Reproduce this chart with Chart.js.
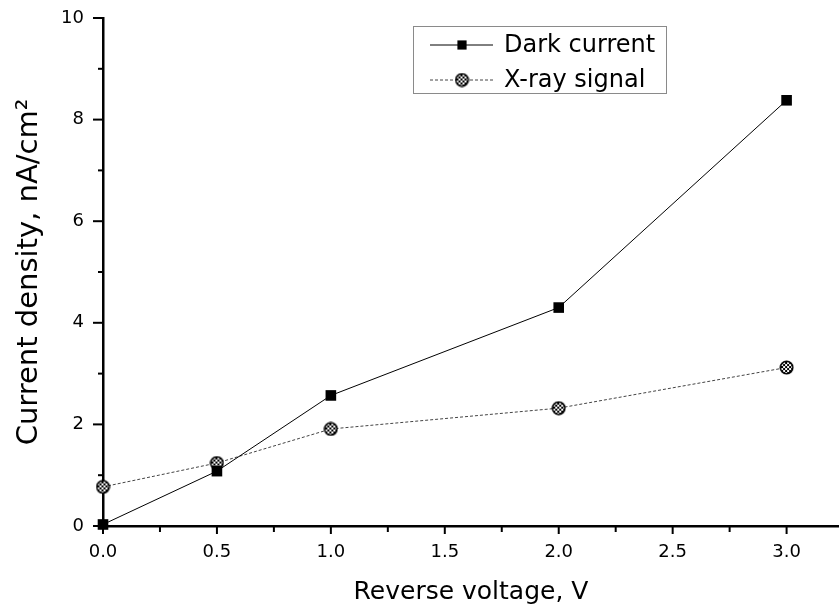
<!DOCTYPE html>
<html>
<head>
<meta charset="utf-8">
<script src="https://cdn.jsdelivr.net/npm/chart.js@4.4.0/dist/chart.umd.min.js"></script>
<style>
  html, body { margin: 0; padding: 0; background: #fff; }
  #wrap { width: 839px; height: 612px; }
</style>
</head>
<body>
<div id="wrap"><canvas id="c"></canvas></div>
<script>
const voltage     = [0, 0.5, 1.0, 2.0, 3.0];
const darkCurrent = [0.03, 1.08, 2.57, 4.30, 8.38];
const xraySignal  = [0.77, 1.24, 1.91, 2.32, 3.12];
const seriesNames = ['Dark current', 'X-ray signal'];
const xTitle = 'Reverse voltage, V';
const yTitle = 'Current density, nA/cm²';

const FONT = "'DejaVu Sans', sans-serif";

// crosshatched round marker for the x-ray series
function hatchMarker() {
  const s = 15, c = document.createElement('canvas');
  c.width = s; c.height = s;
  const g = c.getContext('2d');
  g.save();
  g.beginPath(); g.arc(s / 2, s / 2, 6.5, 0, Math.PI * 2); g.clip();
  g.fillStyle = '#fff'; g.fillRect(0, 0, s, s);
  g.fillStyle = '#000';
  for (let i = 0; i < s; i += 2)
    for (let j = 0; j < s; j += 2)
      if (((i + j) / 2) % 2 === 0) g.fillRect(i, j, 2, 2);
  g.restore();
  g.beginPath(); g.arc(s / 2, s / 2, 6.2, 0, Math.PI * 2);
  g.lineWidth = 1.6; g.strokeStyle = '#000'; g.stroke();
  return c;
}

const pts = ys => voltage.map((v, i) => ({ x: v, y: ys[i] }));

// outward major/minor ticks, placed through the scales
const axisTicks = {
  id: 'axisTicks',
  afterDraw(chart) {
    const { ctx, chartArea: { left, bottom } } = chart;
    ctx.save();
    ctx.strokeStyle = '#000';
    ctx.lineWidth = 2;
    const xs = chart.scales.x, ys = chart.scales.y;
    xs.ticks.forEach(t => {
      const p = xs.getPixelForValue(t.value);
      const len = t.label ? 8 : 6;
      ctx.beginPath(); ctx.moveTo(p, bottom); ctx.lineTo(p, bottom + len); ctx.stroke();
    });
    ys.ticks.forEach(t => {
      const p = ys.getPixelForValue(t.value);
      const len = t.label !== '' ? 10 : 5;
      ctx.beginPath(); ctx.moveTo(left, p); ctx.lineTo(left - len, p); ctx.stroke();
    });
    ctx.restore();
  }
};

// boxed legend inside the plot, like the original
const legendBox = {
  id: 'legendBox',
  afterDraw(chart) {
    const ctx = chart.ctx;
    const x0 = 413, y0 = 26, w = 253, h = 67;
    ctx.save();
    ctx.fillStyle = '#fff';
    ctx.fillRect(x0, y0, w, h);
    ctx.strokeStyle = '#8a8a8a';
    ctx.lineWidth = 1;
    ctx.strokeRect(x0 + 0.5, y0 + 0.5, w, h);
    chart.data.datasets.forEach((ds, i) => {
      const y = y0 + 19 + i * 35;
      ctx.beginPath();
      ctx.setLineDash(ds.borderDash || []);
      ctx.strokeStyle = ds.borderColor;
      ctx.lineWidth = ds.borderWidth;
      ctx.moveTo(x0 + 17, y); ctx.lineTo(x0 + 80, y); ctx.stroke();
      ctx.setLineDash([]);
      ctx.fillStyle = ds.pointBackgroundColor;
      ctx.strokeStyle = ds.pointBorderColor;
      Chart.helpers.drawPoint(ctx, {
        pointStyle: ds.pointStyle, radius: ds.pointRadius - 1,
        borderWidth: ds.pointBorderWidth, rotation: 0
      }, x0 + 49, y);
      ctx.fillStyle = '#000';
      ctx.font = '24px ' + FONT;
      ctx.textBaseline = 'middle';
      ctx.fillText(ds.label, x0 + 91, y + 1);
    });
    ctx.restore();
  }
};

new Chart(document.getElementById('c'), {
  type: 'line',
  data: {
    datasets: [
      {
        label: seriesNames[0],
        data: pts(darkCurrent),
        borderColor: '#000',
        borderWidth: 1,
        pointStyle: 'rect',
        pointRadius: 7.5,
        pointBackgroundColor: '#000',
        pointBorderColor: '#000',
        pointBorderWidth: 0,
        clip: false
      },
      {
        label: seriesNames[1],
        data: pts(xraySignal),
        borderColor: '#444',
        borderWidth: 1,
        borderDash: [3, 2],
        pointStyle: hatchMarker(),
        pointRadius: 7,
        pointBackgroundColor: '#000',
        pointBorderColor: '#000',
        pointBorderWidth: 0,
        clip: false
      }
    ]
  },
  options: {
    responsive: true,
    maintainAspectRatio: false,
    animation: false,
    devicePixelRatio: 1,
    layout: { autoPadding: false, padding: { top: 18, right: 0, left: 0, bottom: 0 } },
    plugins: { legend: { display: false }, tooltip: { enabled: false } },
    scales: {
      x: {
        type: 'linear',
        min: 0,
        max: 3.23,
        afterFit: s => {
          s.height = 86;
          s.paddingLeft = 0; s.paddingRight = 0;
        },
        ticks: {
          stepSize: 0.25,
          includeBounds: false,
          autoSkip: false,
          maxRotation: 0,
          padding: 16,
          color: '#000',
          font: { family: FONT, size: 18 },
          callback: v => Math.abs(v * 2 - Math.round(v * 2)) < 1e-6 ? v.toFixed(1) : ''
        },
        grid: { display: false, drawTicks: false },
        border: { display: true, color: '#000', width: 2.5 },
        title: {
          display: true,
          text: xTitle,
          color: '#000',
          font: { family: FONT, size: 25 },
          padding: { top: 0, bottom: 5 }
        }
      },
      y: {
        min: 0,
        max: 10,
        afterFit: s => {
          s.width = 103;
          s.paddingTop = 0; s.paddingBottom = 0;
        },
        ticks: {
          stepSize: 1,
          autoSkip: false,
          padding: 19,
          color: '#000',
          font: { family: FONT, size: 18 },
          callback: v => v % 2 === 0 ? String(v) : ''
        },
        grid: { display: false, drawTicks: false },
        border: { display: true, color: '#000', width: 2.5 },
        title: {
          display: true,
          text: yTitle,
          color: '#000',
          font: { family: FONT, size: 29 },
          padding: { top: 12, bottom: 0 }
        }
      }
    }
  },
  plugins: [axisTicks, legendBox]
});
</script>
</body>
</html>
